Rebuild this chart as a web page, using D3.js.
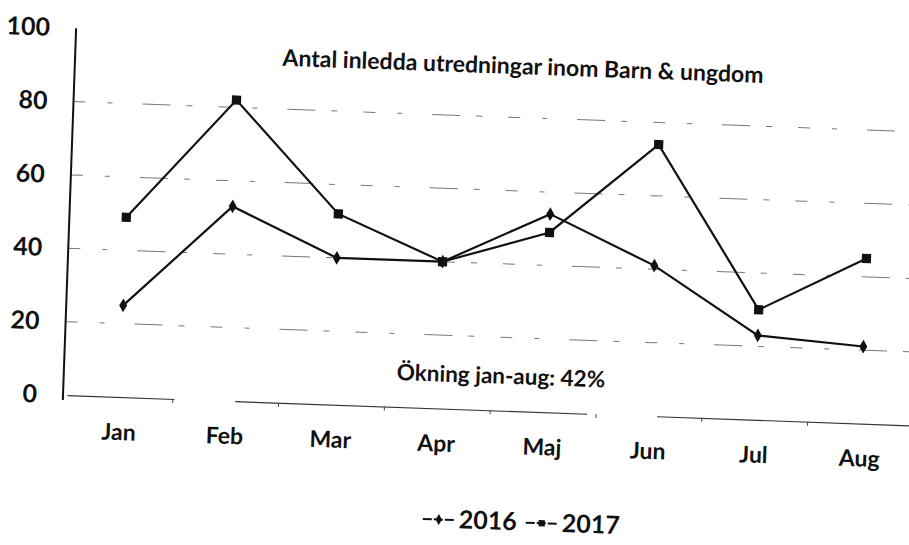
<!DOCTYPE html>
<html>
<head>
<meta charset="utf-8">
<script src="https://cdn.jsdelivr.net/npm/d3@7"></script>
<style>
  html, body { margin: 0; padding: 0; background: #fff; }
  svg { display: block; }
  text { font-family: Lato, "Open Sans", sans-serif; fill: #111; }
</style>
</head>
<body>
<svg id="chart" width="909" height="545"></svg>
<script>
// Monthly counts of opened investigations (Barn & ungdom)
const months = ["Jan", "Feb", "Mar", "Apr", "Maj", "Jun", "Jul", "Aug"];
const values2016 = [25, 53, 40, 40, 54, 41, 23, 21];
const values2017 = [49, 82, 52, 40, 49, 74, 30, 45];
const yTicks = [0, 20, 40, 60, 80, 100];
const seriesNames = ["2016", "2017"];
const titleText = "Antal inledda utredningar inom Barn & ungdom";
const noteText = "Ökning jan-aug: 42%";

const svg = d3.select("#chart");

// The printed page sits slightly skewed, so the plot frame is tilted a little
const plotW = 851, plotH = 367, tilt = 2.05;
const g = svg.append("g")
  .attr("transform", `translate(63,395) rotate(${tilt})`);

const x = d3.scaleBand().domain(months).range([4, plotW]).padding(0);
const y = d3.scaleLinear().domain([0, 100]).range([0, -plotH]);

// Faint, broken horizontal gridlines
g.append("g").selectAll("line")
  .data(yTicks.filter(t => t > 0 && t < 100))
  .join("line")
  .attr("x1", 0).attr("x2", plotW)
  .attr("y1", d => y(d)).attr("y2", d => y(d))
  .attr("stroke", "#777")
  .attr("stroke-width", 1)
  .attr("stroke-dasharray", "12,22,5,30,28,16,6,26");

// Category axis (baseline) with small ticks between categories
const xAxis = d3.axisBottom(x).tickSize(0).tickPadding(0);
const xg = g.append("g").call(xAxis);
xg.select(".domain")
  .attr("stroke", "#333")
  .attr("stroke-width", 1.2)
  .attr("stroke-dasharray", "107,61,352,70,280,40");
xg.selectAll(".tick text")
  .attr("dy", null)
  .attr("y", 43)
  .attr("font-size", 23)
  .attr("font-weight", 700)
  .attr("fill", "#111");
g.append("g").selectAll("line")
  .data(months.slice(1))
  .join("line")
  .attr("x1", d => x(d)).attr("x2", d => x(d))
  .attr("y1", 0).attr("y2", 4)
  .attr("stroke", "#444");

// Value axis
const yAxis = d3.axisLeft(y).tickValues(yTicks).tickSize(0).tickPadding(26);
const yg = g.append("g").call(yAxis);
yg.select(".domain")
  .attr("stroke", "#111")
  .attr("stroke-width", 2)
  .attr("d", `M0,5V${y(100)}`);
yg.selectAll(".tick text")
  .attr("font-size", 25)
  .attr("font-weight", 700)
  .attr("fill", "#111");

// Series lines and markers
const cx = d => x(d) + x.bandwidth() / 2;
const line = d3.line().x(d => cx(d.m)).y(d => y(d.v));
const s2016 = months.map((m, i) => ({ m, v: values2016[i] }));
const s2017 = months.map((m, i) => ({ m, v: values2017[i] }));

[s2016, s2017].forEach(s => {
  g.append("path")
    .datum(s)
    .attr("d", line)
    .attr("fill", "none")
    .attr("stroke", "#111")
    .attr("stroke-width", 2.2);
});

const diamond = d3.symbol().type(d3.symbolDiamond).size(55);
const square = d3.symbol().type(d3.symbolSquare).size(85);

g.append("g").selectAll("path")
  .data(s2016).join("path")
  .attr("d", diamond)
  .attr("transform", d => `translate(${cx(d.m)},${y(d.v)})`)
  .attr("fill", "#111");

g.append("g").selectAll("path")
  .data(s2017).join("path")
  .attr("d", square)
  .attr("transform", d => `translate(${cx(d.m)},${y(d.v)})`)
  .attr("fill", "#111");

// Title and note inside the plot area
g.append("text")
  .attr("x", 448).attr("y", -337)
  .attr("text-anchor", "middle")
  .attr("font-size", 23)
  .attr("font-weight", 700)
  .text(titleText);

g.append("text")
  .attr("x", 437).attr("y", -27)
  .attr("text-anchor", "middle")
  .attr("font-size", 22.5)
  .attr("font-weight", 700)
  .text(noteText);

// Legend below the axis
const legend = g.append("g").attr("transform", "translate(364,119)");
const items = [
  { name: seriesNames[0], sym: diamond, x0: 0 },
  { name: seriesNames[1], sym: square, x0: 103 }
];
items.forEach(it => {
  const lg = legend.append("g").attr("transform", `translate(${it.x0},0)`);
  lg.append("line")
    .attr("x1", 0).attr("x2", 32)
    .attr("y1", -8).attr("y2", -8)
    .attr("stroke", "#111").attr("stroke-width", 2)
    .attr("stroke-dasharray", "9,2");
  lg.append("path")
    .attr("d", it.sym.size(it.sym === square ? 40 : 35)())
    .attr("transform", "translate(16,-8)")
    .attr("fill", "#111");
  lg.append("text")
    .attr("x", 36).attr("y", 0)
    .attr("font-size", 25)
    .attr("font-weight", 700)
    .text(it.name);
});
</script>
</body>
</html>
